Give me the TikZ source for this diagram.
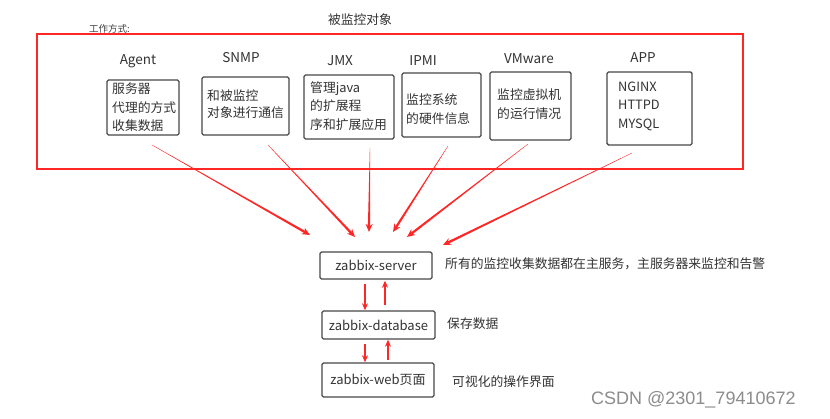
\documentclass[tikz,border=0pt]{standalone}
\usepackage{fontspec}
\setmainfont{Noto Sans CJK SC}
\newfontfamily\wmfont{Liberation Sans}
\usetikzlibrary{arrows.meta,calc}
\definecolor{myred}{RGB}{255,38,38}
\begin{document}
\begin{tikzpicture}[x=1pt,y=-1pt,
  box/.style={draw=black!72, line width=1.4pt, rounded corners=1.5pt, inner sep=0pt},
  lbl/.style={font=\fontsize{13.5}{14}\selectfont, text=black!80, inner sep=0pt},
  txt/.style={font=\fontsize{12.8}{18.5}\selectfont, text=black!80, align=left, inner sep=0pt, anchor=west},
  ann/.style={font=\fontsize{12.8}{14}\selectfont, text=black!80, inner sep=0pt, anchor=west},
  head/.style={-{Stealth[length=8pt,width=7pt]}, line width=2.2pt, draw=myred},
  taper/.style={fill=myred},
  varr/.style={-{Stealth[length=7pt,width=6pt]}, line width=1.6pt, draw=myred}
]
\useasboundingbox (0,0) rectangle (830,419);
\fill[white] (0,0) rectangle (830,419);

\node[font=\fontsize{12.8}{14}\selectfont, text=black!80] (title) at (360,20) {被监控对象};
\node[font=\fontsize{9.5}{11}\selectfont, anchor=west, text=black!75, inner sep=0pt] (mode) at (89,29) {工作方式:};
\node[draw=myred, line width=2pt, minimum width=706, minimum height=135, inner sep=0pt] (frame) at (390,101.5) {};

% labels
\node[lbl] (agentl) at (138,61) {Agent};
\node[lbl] (snmpl) at (241,58) {SNMP};
\node[lbl] (jmxl) at (340,61) {JMX};
\node[lbl] (ipmil) at (423,61) {IPMI};
\node[lbl] (vmwl) at (529,59) {VMware};
\node[lbl] (appl) at (643,58) {APP};

% boxes
\node[box, minimum width=72, minimum height=55] (agent) at (143,107.5) {};
\node[box, minimum width=87, minimum height=58] (snmp) at (245.5,106) {};
\node[box, minimum width=90, minimum height=64] (jmx) at (349,107) {};
\node[box, minimum width=79, minimum height=64] (ipmi) at (441.5,105) {};
\node[box, minimum width=81, minimum height=68] (vmw) at (530.5,106) {};
\node[box, minimum width=85, minimum height=73] (app) at (649.5,108.5) {};

\node[txt] (agentt) at (112,107.5) {服务器\\代理的方式\\收集数据};
\node[txt, font=\fontsize{12.8}{17}\selectfont] (snmpt) at (207,104.5) {和被监控\\对象进行通信};
\node[txt] (jmxt) at (310,106) {管理java\\的扩展程\\序和扩展应用};
\node[txt] (ipmit) at (406,109) {监控系统\\的硬件信息};
\node[txt] (vmwt) at (497,104) {监控虚拟机\\的运行情况};
\node[txt] (appt) at (618,106) {NGINX\\HTTPD\\MYSQL};

% bottom stack
\node[box, minimum width=112, minimum height=27] (server) at (376,265.5) {};
\node[lbl, font=\fontsize{13}{14}\selectfont] at (server.center) {zabbix-server};
\node[box, minimum width=113, minimum height=28] (database) at (378.5,325) {};
\node[lbl, font=\fontsize{13}{14}\selectfont] at (database.center) {zabbix-database};
\node[box, minimum width=112, minimum height=34] (web) at (378,380) {};
\node[lbl, font=\fontsize{13}{14}\selectfont] at (web.center) {zabbix-web页面};

\node[ann] (ann1) at (445,264) {所有的监控收集数据都在主服务，主服务器来监控和告警};
\node[ann] (ann2) at (447,324) {保存数据};
\node[ann] (ann3) at (452,382) {可视化的操作界面};

\node[anchor=west, inner sep=0pt, text=black!45, font=\wmfont\fontsize{18}{20}\selectfont] (wm) at (591,400) {CSDN @2301\_79410672};

% arrows to server (tapered from a thin start to a full-width end)
\coordinate (s1) at (152,145); \coordinate (e1) at (310,235);
\coordinate (s2) at (268,145); \coordinate (e2) at (355,237);
\coordinate (s3) at (370,148); \coordinate (e3) at (369,232);
\coordinate (s4) at (448,146); \coordinate (e4) at (393,232);
\coordinate (s5) at (528,144); \coordinate (e5) at (407,237);
\coordinate (s6) at (632,153); \coordinate (e6) at (443,245);
\foreach \i in {1,...,6} {
  \coordinate (m\i) at ($(e\i)!7pt!(s\i)$);
  \fill[taper] ($(s\i)!0.15pt!90:(e\i)$) -- ($(s\i)!0.15pt!-90:(e\i)$)
     -- ($(m\i)!1.15pt!90:(s\i)$) -- ($(m\i)!1.15pt!-90:(s\i)$) -- cycle;
  \draw[head] ($(m\i)!0.5pt!(s\i)$) -- (e\i);
}

% vertical arrows
\draw[varr, shorten <=4pt] (server.south -| 365,0) -- (database.north -| 365,0);
\draw[varr, shorten <=5pt, shorten >=1pt] (database.north -| 385,0) -- (server.south -| 385,0);
\draw[varr, shorten <=4pt] (database.south -| 365,0) -- (web.north -| 365,0);
\draw[varr, shorten <=2pt] (web.north -| 388,0) -- (database.south -| 388,0);
\end{tikzpicture}
\end{document}
